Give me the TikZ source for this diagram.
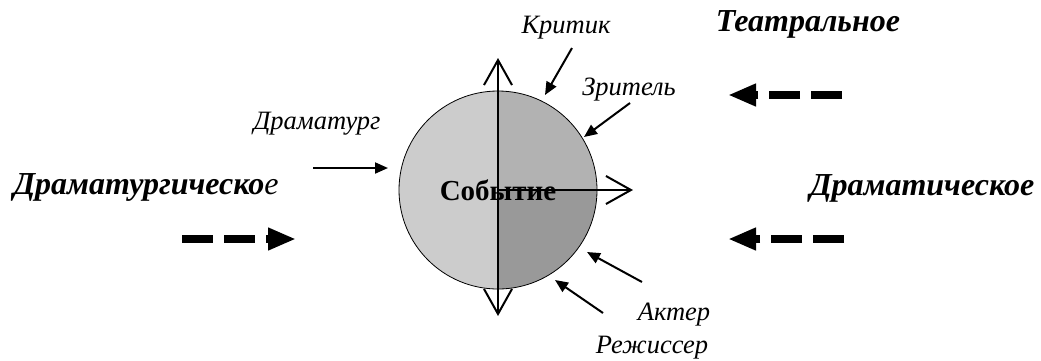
\documentclass[tikz,border=0pt]{standalone}
\usepackage{fontspec}
\setmainfont{Liberation Serif}
\usetikzlibrary{arrows.meta,positioning}
\definecolor{halfleft}{gray}{0.80}
\definecolor{quarterup}{gray}{0.70}
\definecolor{quarterdown}{gray}{0.60}
\tikzset{
  role label/.style={font=\itshape\fontsize{26.5}{30}\selectfont, inner sep=0pt},
  kind label/.style={font=\bfseries\itshape\fontsize{32}{36}\selectfont, inner sep=0pt},
  role arrow/.style={-{Triangle[length=13pt,width=11pt]}, line width=2pt},
  Barb/.tip={Straight Barb[length=25pt,width=28pt]},
  axis arrow/.style={line width=2pt},
  flow arrow/.style={-{Triangle[length=28pt,width=21pt]}, line width=8pt,
    dash pattern=on 31pt off 11pt}
}

\begin{document}
\begin{tikzpicture}[x=1pt, y=-1pt]
    \useasboundingbox (0,0) rectangle (1041,360);
    % the event, split into three parts
    \node[circle, draw, line width=0.8pt, minimum size=198pt, inner sep=0pt,
      font=\bfseries\fontsize{29}{32}\selectfont,
      path picture={
        \fill[halfleft] (path picture bounding box.north west) rectangle (path picture bounding box.south);
        \fill[quarterup] (path picture bounding box.north) rectangle (path picture bounding box.east);
        \fill[quarterdown] (path picture bounding box.center) rectangle (path picture bounding box.south east);
      }] (event) at (498,190) {Событие};
    \coordinate (axis top) at (498,58);
    \coordinate (axis bottom) at (498,316);
    \coordinate (axis right) at (633,190);
    \draw[axis arrow, Barb-Barb] (axis bottom) -- (axis top);
    \draw[axis arrow, -Barb] (event.center) -- (axis right);
    % participants
    \node[role label] (critic) at (566,28) {Критик};
    \node[role label] (viewer) at (629,90) {Зритель};
    \node[role label] (dramatist) at (317,124) {Драматург};
    \node[role label] (actor) at (674,315) {Актер};
    \node[role label] (director) at (652,348) {Режиссер};
    \coordinate (critic tail) at (572,48);
    \coordinate (critic head) at (545,95);
    \coordinate (viewer tail) at (630,103);
    \coordinate (viewer head) at (584,137);
    \coordinate (dramatist tail) at (313,168);
    \coordinate (dramatist head) at (388,168);
    \coordinate (actor tail) at (642,282);
    \coordinate (actor head) at (587,252);
    \coordinate (director tail) at (603,313);
    \coordinate (director head) at (555,280);
    \draw[role arrow] (critic tail) -- (critic head);
    \draw[role arrow] (viewer tail) -- (viewer head);
    \draw[role arrow] (dramatist tail) -- (dramatist head);
    \draw[role arrow] (actor tail) -- (actor head);
    \draw[role arrow] (director tail) -- (director head);
    % kinds of action
    \node[kind label] (dramaturgic) at (146,187) {Драматургическо{\mdseries е}};
    \node[kind label] (theatrical) at (808,24) {Театральное};
    \node[kind label] (dramatic) at (922,188) {Драматическое};
    \coordinate (dramaturgic tail) at (182,239);
    \coordinate (dramaturgic head) at (296,239);
    \coordinate (theatrical tail) at (842,95);
    \coordinate (theatrical head) at (728,95);
    \coordinate (dramatic tail) at (844,239);
    \coordinate (dramatic head) at (728,239);
    \draw[flow arrow] (dramaturgic tail) -- (dramaturgic head);
    \draw[flow arrow] (theatrical tail) -- (theatrical head);
    \draw[flow arrow] (dramatic tail) -- (dramatic head);
  \end{tikzpicture}
\end{document}
